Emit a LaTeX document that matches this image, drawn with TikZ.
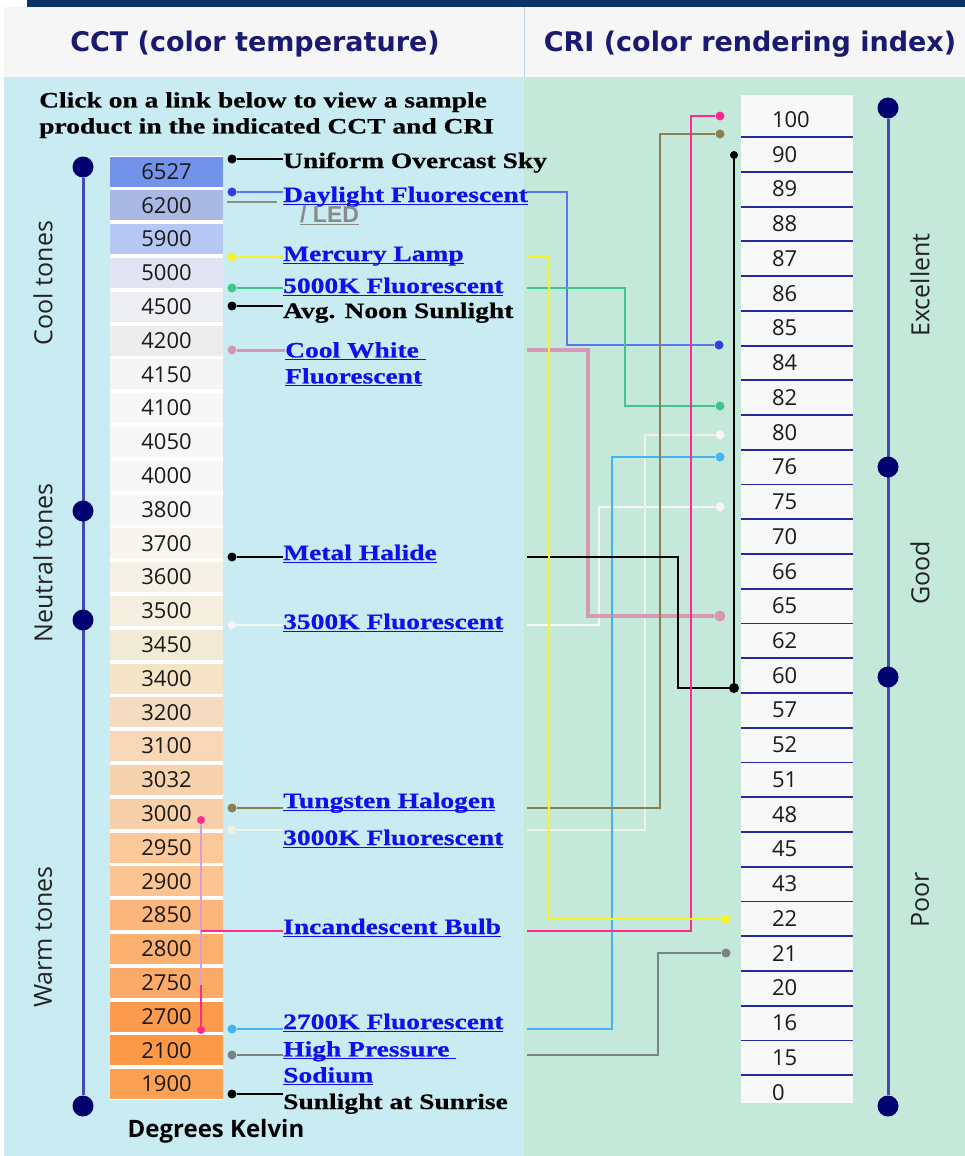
\documentclass[tikz,border=0pt]{standalone}
\usepackage{fontspec}
\setmainfont{Liberation Serif}
\newfontfamily\lkfont[FakeStretch=1.25,FakeBold=0.5]{Liberation Serif}
\newfontfamily\opensans{Open Sans}
\newfontfamily\headfont{DejaVu Sans}
\newfontfamily\ledfont{Liberation Sans}
\usetikzlibrary{positioning}

\definecolor{topbar}{HTML}{0A3468}
\definecolor{headbg}{HTML}{F6F6F6}
\definecolor{headdiv}{HTML}{BCD6E6}
\definecolor{leftbg}{HTML}{C8ECF2}
\definecolor{rightbg}{HTML}{C4E8DA}
\definecolor{headtxt}{HTML}{1A1A70}
\definecolor{scaleln}{HTML}{4848B0}
\definecolor{scaledot}{HTML}{00006E}
\definecolor{crib}{HTML}{F8F8F8}
\definecolor{sepc}{HTML}{2828A0}
\definecolor{numtxt}{HTML}{1A1A1A}
\definecolor{tonetxt}{HTML}{222222}
\definecolor{lnkblue}{HTML}{1010EE}
\definecolor{ledgrey}{HTML}{8A8A8A}
% connector colours
\definecolor{dayc}{HTML}{5878F0}
\definecolor{daydot}{HTML}{3040E0}
\definecolor{merc}{HTML}{F8F428}
\definecolor{fkc}{HTML}{40C48C}
\definecolor{cwc}{HTML}{D898B4}
\definecolor{f35c}{HTML}{F6F6F6}
\definecolor{tunc}{HTML}{8A8050}
\definecolor{f30c}{HTML}{EEF2E2}
\definecolor{incc}{HTML}{FF2A90}
\definecolor{incpale}{HTML}{D8A0D0}
\definecolor{f27c}{HTML}{44B4F0}
\definecolor{hpsc}{HTML}{788484}
% kelvin cells
\definecolor{k6527}{HTML}{7393EA}
\definecolor{k6200}{HTML}{A9B9E3}
\definecolor{k5900}{HTML}{B5C7F2}
\definecolor{k5000}{HTML}{E2E3F3}
\definecolor{k4500}{HTML}{EDEEF1}
\definecolor{k4200}{HTML}{EDEDED}
\definecolor{k4150}{HTML}{F5F5F5}
\definecolor{k4100}{HTML}{F7F7F7}
\definecolor{k3700}{HTML}{F8F5EE}
\definecolor{k3600}{HTML}{F6F1E6}
\definecolor{k3500}{HTML}{F5EFE0}
\definecolor{k3450}{HTML}{F1EBD6}
\definecolor{k3400}{HTML}{F6E4C7}
\definecolor{k3200}{HTML}{F5DCC1}
\definecolor{k3100}{HTML}{F7D7B6}
\definecolor{k3032}{HTML}{F6D2AE}
\definecolor{k3000}{HTML}{F7CFA8}
\definecolor{k2950}{HTML}{FCC899}
\definecolor{k2900}{HTML}{FCC492}
\definecolor{k2850}{HTML}{FCB57A}
\definecolor{k2800}{HTML}{FCB070}
\definecolor{k2750}{HTML}{FCAA68}
\definecolor{k2700}{HTML}{FC9B4E}
\definecolor{k2100}{HTML}{FC9946}
\definecolor{k1900}{HTML}{FCA154}

\newcommand\lk[1]{\setbox0=\hbox{#1}\rlap{\rule[-3pt]{\wd0}{1.5pt}}\box0}

\begin{document}
\begin{tikzpicture}[x=1pt,y=1pt,node distance=33.8pt,
  kbox/.style={minimum width=113pt,minimum height=30pt,inner sep=0pt,
    font=\opensans\fontsize{22}{24}\selectfont,text=numtxt},
  cri/.style={minimum height=34.74pt,text width=50pt,align=left,inner xsep=31pt,
    inner ysep=0pt,font=\opensans\fontsize{22}{24}\selectfont,text=numtxt},
  lbl/.style={anchor=base west,inner sep=0pt,
    font=\lkfont\bfseries\fontsize{22}{26}\selectfont},
  lnk/.style={lbl,text=lnkblue},
  head/.style={font=\headfont\bfseries\fontsize{27}{30}\selectfont,text=headtxt},
  tone/.style={rotate=90,font=\opensans\fontsize{25}{28}\selectfont,text=tonetxt},
  dot/.style={circle,inner sep=0pt,minimum size=9pt},
  bigdot/.style={circle,fill=scaledot,inner sep=0pt,minimum size=21pt},
  scl/.style={line width=3pt,draw=scaleln},
  con/.style={line width=2.4pt},
  sep/.style={line width=1.8pt,draw=sepc}]

  \useasboundingbox (0,0) rectangle (965,-1156);
  \fill[white] (0,0) rectangle (965,-1156);
  \fill[topbar] (27,0) rectangle (965,-7);
  \fill[headbg] (4,-7) rectangle (965,-77);
  \fill[leftbg] (4,-77) rectangle (524,-1156);
  \fill[rightbg] (524,-77) rectangle (965,-1156);
  \draw[headdiv,line width=1.5pt] (524.5,-7) -- (524.5,-77);

  \node[head] (cct-h) at (255,-44) {CCT (color temperature)};
  \node[head] (cri-h) at (750,-44) {CRI (color rendering index)};

  \node[lbl,anchor=north west,align=left] (note) at (39,-92)
    {Click on a link below to view a sample\\product in the indicated CCT and CRI};

  % left scale
  \node[bigdot] (ls-t) at (83,-167) {};
  \node[bigdot] (ls-b) at (83,-1106) {};
  \draw[scl] (ls-t) -- (ls-b);
  \node[bigdot] (ls-n) at (83,-511) {};
  \node[bigdot] (ls-w) at (83,-620) {};
  \node[tone] (cool) at (43,-283) {Cool tones};
  \node[tone] (neut) at (43,-563) {Neutral tones};
  \node[tone] (warm) at (43,-937) {Warm tones};

  % kelvin column
  \fill[white] (110,-156) rectangle (223,-1100);
  \node[kbox,fill=k6527] (k1) at (166.5,-171.5) {6527};
  \node[kbox,fill=k6200,below of=k1] (k2) {6200};
  \node[kbox,fill=k5900,below of=k2] (k3) {5900};
  \node[kbox,fill=k5000,below of=k3] (k4) {5000};
  \node[kbox,fill=k4500,below of=k4] (k5) {4500};
  \node[kbox,fill=k4200,below of=k5] (k6) {4200};
  \node[kbox,fill=k4150,below of=k6] (k7) {4150};
  \node[kbox,fill=k4100,below of=k7] (k8) {4100};
  \node[kbox,fill=k4100,below of=k8] (k9) {4050};
  \node[kbox,fill=k4100,below of=k9] (k10) {4000};
  \node[kbox,fill=k4100,below of=k10] (k11) {3800};
  \node[kbox,fill=k3700,below of=k11] (k12) {3700};
  \node[kbox,fill=k3600,below of=k12] (k13) {3600};
  \node[kbox,fill=k3500,below of=k13] (k14) {3500};
  \node[kbox,fill=k3450,below of=k14] (k15) {3450};
  \node[kbox,fill=k3400,below of=k15] (k16) {3400};
  \node[kbox,fill=k3200,below of=k16] (k17) {3200};
  \node[kbox,fill=k3100,below of=k17] (k18) {3100};
  \node[kbox,fill=k3032,below of=k18] (k19) {3032};
  \node[kbox,fill=k3000,below of=k19] (k20) {3000};
  \node[kbox,fill=k2950,below of=k20] (k21) {2950};
  \node[kbox,fill=k2900,below of=k21] (k22) {2900};
  \node[kbox,fill=k2850,below of=k22] (k23) {2850};
  \node[kbox,fill=k2800,below of=k23] (k24) {2800};
  \node[kbox,fill=k2750,below of=k24] (k25) {2750};
  \node[kbox,fill=k2700,below of=k25] (k26) {2700};
  \node[kbox,fill=k2100,below of=k26] (k27) {2100};
  \node[kbox,fill=k1900,below of=k27] (k28) {1900};
  \node[font=\opensans\bfseries\fontsize{24}{26}\selectfont,text=black] (dk) at (216,-1131) {Degrees Kelvin};

  % cri column
  \fill[crib] (741,-95) rectangle (853,-1103);
  \begin{scope}[node distance=34.74pt]
  \node[cri] (c1) at (797,-119.6) {100};
  \node[cri,below of=c1] (c2) {90};
  \node[cri,below of=c2] (c3) {89};
  \node[cri,below of=c3] (c4) {88};
  \node[cri,below of=c4] (c5) {87};
  \node[cri,below of=c5] (c6) {86};
  \node[cri,below of=c6] (c7) {85};
  \node[cri,below of=c7] (c8) {84};
  \node[cri,below of=c8] (c9) {82};
  \node[cri,below of=c9] (c10) {80};
  \node[cri,below of=c10] (c11) {76};
  \node[cri,below of=c11] (c12) {75};
  \node[cri,below of=c12] (c13) {70};
  \node[cri,below of=c13] (c14) {66};
  \node[cri,below of=c14] (c15) {65};
  \node[cri,below of=c15] (c16) {62};
  \node[cri,below of=c16] (c17) {60};
  \node[cri,below of=c17] (c18) {57};
  \node[cri,below of=c18] (c19) {52};
  \node[cri,below of=c19] (c20) {51};
  \node[cri,below of=c20] (c21) {48};
  \node[cri,below of=c21] (c22) {45};
  \node[cri,below of=c22] (c23) {43};
  \node[cri,below of=c23] (c24) {22};
  \node[cri,below of=c24] (c25) {21};
  \node[cri,below of=c25] (c26) {20};
  \node[cri,below of=c26] (c27) {16};
  \node[cri,below of=c27] (c28) {15};
  \node[cri,below of=c28] (c29) {0};
  \end{scope}
  \foreach \i in {1,...,28}
    \draw[sep] (c\i.south west) -- (c\i.south east);

  % right scale
  \node[bigdot] (rs-t) at (888,-108) {};
  \node[bigdot] (rs-b) at (888,-1106) {};
  \draw[scl] (rs-t) -- (rs-b);
  \node[bigdot] (rs-g) at (888,-467) {};
  \node[bigdot] (rs-p) at (888,-677) {};
  \node[tone] (exc) at (920,-285) {Excellent};
  \node[tone] (good) at (920,-573) {Good};
  \node[tone] (poor) at (920,-900) {Poor};

  % light sources
  \node[lbl] (sky) at (283,-168) {Uniform Overcast Sky};
  \node[lnk] (day) at (283,-202) {\lk{Daylight Fluorescent}};
  \node[anchor=base west,inner sep=0pt,text=ledgrey,
    font=\ledfont\bfseries\fontsize{23}{26}\selectfont] (led) at (300,-222) {\lk{/ LED}};
  \node[lnk] (mer) at (283,-261) {\lk{Mercury Lamp}};
  \node[lnk] (fk5) at (283,-293) {\lk{5000K Fluorescent}};
  \node[lbl] (noon) at (283,-318) {Avg. Noon Sunlight};
  \node[lnk,anchor=north west,align=left] (cw) at (285,-342) {\lk{Cool White\ }\\\lk{Fluorescent}};
  \node[lnk] (mh) at (283,-560) {\lk{Metal Halide}};
  \node[lnk] (f35) at (283,-629) {\lk{3500K Fluorescent}};
  \node[lnk] (tun) at (283,-808) {\lk{Tungsten Halogen}};
  \node[lnk] (f30) at (283,-845) {\lk{3000K Fluorescent}};
  \node[lnk] (inc) at (283,-934) {\lk{Incandescent Bulb}};
  \node[lnk] (f27) at (283,-1029) {\lk{2700K Fluorescent}};
  \node[lnk,anchor=north west,align=left] (hps) at (283,-1041) {\lk{High Pressure\ }\\\lk{Sodium}};
  \node[lbl] (rise) at (283,-1109) {Sunlight at Sunrise};

  % dots next to the kelvin column
  \node[dot,fill=black] (sky-d) at (232,-159) {};
  \node[dot,fill=daydot] (day-d) at (232,-192) {};
  \node[dot,fill=merc] (mer-d) at (232,-257) {};
  \node[dot,fill=fkc] (fk5-d) at (232,-288) {};
  \node[dot,fill=black] (noon-d) at (232,-306) {};
  \node[dot,fill=cwc] (cw-d) at (232,-350) {};
  \node[dot,fill=black] (mh-d) at (232,-557) {};
  \node[dot,fill=f35c] (f35-d) at (232,-625) {};
  \node[dot,fill=tunc] (tun-d) at (232,-808) {};
  \node[dot,fill=f30c] (f30-d) at (232,-830) {};
  \node[dot,fill=f27c] (f27-d) at (232,-1029) {};
  \node[dot,fill=hpsc] (hps-d) at (232,-1055) {};
  \node[dot,fill=black] (rise-d) at (232,-1094) {};
  \node[dot,fill=incc,minimum size=8pt] (inc-t) at (201,-820) {};
  \node[dot,fill=incc,minimum size=8pt] (inc-b) at (201,-1030) {};
  \coordinate (inc-m) at (201,-985);
  \coordinate (inc-j) at (201,-931);
  \coordinate (led-a) at (227,-202);
  \coordinate (led-b) at (277,-202);

  % dots next to the cri column
  \node[dot,fill=daydot] (day-c) at (719,-345) {};
  \node[dot,fill=merc] (mer-c) at (726,-919) {};
  \node[dot,fill=fkc] (fk5-c) at (720,-406) {};
  \node[dot,fill=cwc,minimum size=11pt] (cw-c) at (720,-616) {};
  \node[dot,fill=black,minimum size=10pt] (mh-c) at (734,-688) {};
  \node[dot,fill=black,minimum size=8pt] (mh-t) at (734,-155) {};
  \node[dot,fill=f35c] (f35-c) at (720,-507) {};
  \node[dot,fill=tunc] (tun-c) at (720,-134) {};
  \node[dot,fill=f35c] (f30-c) at (720,-435) {};
  \node[dot,fill=incc] (inc-c) at (720,-116) {};
  \node[dot,fill=f27c] (f27-c) at (720,-457) {};
  \node[dot,fill=hpsc] (hps-c) at (726,-953) {};

  \coordinate (rp) at (527,0);
  \coordinate (day-k) at (567,-345);
  \coordinate (mer-k) at (549,-919);
  \coordinate (fk5-k) at (625,-406);
  \coordinate (cw-k) at (588,-616);
  \coordinate (mh-k) at (678,-688);
  \coordinate (f35-k) at (599,-507);
  \coordinate (tun-k) at (660,-134);
  \coordinate (f30-k) at (645,-435);
  \coordinate (inc-k) at (691,-116);
  \coordinate (f27-k) at (612,-457);
  \coordinate (hps-k) at (658,-953);

  % short leads to the labels
  \draw[con,black] (sky-d) -- (sky-d -| sky.west);
  \draw[con,dayc] (day-d) -- (day-d -| day.west);
  \draw[ledgrey,line width=1.5pt] (led-a) -- (led-b);
  \draw[con,merc] (mer-d) -- (mer-d -| mer.west);
  \draw[con,fkc] (fk5-d) -- (fk5-d -| fk5.west);
  \draw[con,black] (noon-d) -- (noon-d -| noon.west);
  \draw[con,cwc,line width=3pt] (cw-d) -- (cw-d -| cw.west);
  \draw[con,black] (mh-d) -- (mh-d -| mh.west);
  \draw[con,f35c] (f35-d) -- (f35-d -| f35.west);
  \draw[con,tunc] (tun-d) -- (tun-d -| tun.west);
  \draw[con,f30c] (f30-d) -- (f30-d -| f30.west);
  \draw[con,incpale] (inc-t) -- (inc-m);
  \draw[con,incc] (inc-m) -- (inc-b);
  \draw[con,incc] (inc-j) -- (inc-j -| inc.west);
  \draw[con,f27c] (f27-d) -- (f27-d -| f27.west);
  \draw[con,hpsc] (hps-d) -- (hps-d -| hps.west);
  \draw[con,black] (rise-d) -- (rise-d -| rise.west);

  % runs across to the cri column
  \draw[con,f35c] (f35-d -| rp) -| (f35-k) -- (f35-c);
  \draw[con,f30c] (f30-d -| rp) -| (f30-k) -- (f30-c);
  \draw[con,cwc,line width=3.5pt] (cw-d -| rp) -| (cw-k) -- (cw-c);
  \draw[con,dayc] (day-d -| rp) -| (day-k) -- (day-c);
  \draw[con,fkc] (fk5-d -| rp) -| (fk5-k) -- (fk5-c);
  \draw[con,f27c] (f27-d -| rp) -| (f27-k) -- (f27-c);
  \draw[con,tunc] (tun-d -| rp) -| (tun-k) -- (tun-c);
  \draw[con,hpsc] (hps-d -| rp) -| (hps-k) -- (hps-c);
  \draw[con,black] (mh-d -| rp) -| (mh-k) -- (mh-c);
  \draw[con,black] (mh-t) -- (mh-c);
  \draw[con,incc] (inc-j -| rp) -| (inc-k) -- (inc-c);
  \draw[con,merc] (mer-d -| rp) -| (mer-k) -- (mer-c);
\end{tikzpicture}
\end{document}
